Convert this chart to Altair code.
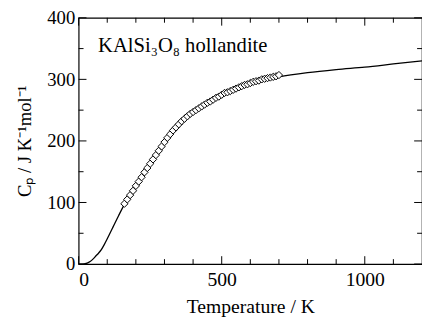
import altair as alt
import pandas as pd

# Fitted curve
curve_T = [0, 10, 20, 30, 40, 50, 60, 70, 80, 90, 100, 120, 140, 160, 180, 200, 250, 300, 350,
           400, 450, 500, 550, 600, 650, 700, 800, 900, 1000, 1100, 1200]
curve_Cp = [0, 0.05, 0.4, 1.5, 4, 8, 13, 18, 24, 32, 41, 60, 79, 97, 113, 128, 164, 196, 223,
            244, 260, 272, 283, 292, 299, 304, 311, 316, 320, 325, 330]

# Measured points (diamonds)
pts_T = [160, 170, 180, 190, 200, 210, 220, 230, 240, 250, 260, 270, 280, 290, 300,
         310, 320, 330, 340, 350, 360, 370, 380, 390, 400, 410, 420, 430, 440, 450,
         460, 470, 480, 490, 500, 510, 520, 530, 540, 550, 560, 570, 580, 590, 600,
         610, 620, 630, 640, 650, 660, 670, 680, 690, 700]
pts_Cp = [98, 105, 112, 119, 127, 134, 141, 149, 156, 163, 170, 177, 184, 191, 198,
          205, 211, 217, 222, 227, 232, 236, 240, 244, 247, 250, 253, 256, 259, 262,
          264, 267, 270, 272, 275, 278, 279, 281, 283, 285, 287, 289, 291, 292, 294,
          296, 297, 298, 300, 301, 302, 303, 304, 305, 307]

x_major = [0, 500, 1000]
x_minor = [100, 200, 300, 400, 600, 700, 800, 900, 1100]
y_major = [0, 100, 200, 300, 400]
y_minor = [50, 150, 250, 350]

label_text = ["KAlSi₃O₈ hollandite"]
label_T = [68]
label_Cp = [344]

W, H = 350, 251
FONT = "Liberation Serif"

xs = alt.Scale(domain=[0, 1200], nice=False, zero=False)
ys = alt.Scale(domain=[0, 400], nice=False, zero=False)

curve = pd.DataFrame({"T": curve_T, "Cp": curve_Cp})
pts = pd.DataFrame({"T": pts_T, "Cp": pts_Cp})

base_line = alt.Chart(curve).mark_line(color="black", strokeWidth=1.3, interpolate="monotone").encode(
    x=alt.X("T:Q", scale=xs,
            axis=alt.Axis(title="Temperature / K", values=x_major, ticks=False, domain=False,
                          grid=False, labelPadding=6, titlePadding=7, format="d")),
    y=alt.Y("Cp:Q", scale=ys,
            axis=alt.Axis(title="Cₚ / J K⁻¹mol⁻¹", values=y_major, ticks=False, domain=False,
                          grid=False, labelPadding=4, titlePadding=13, format="d",
                          titleFontSize=19)),
)

points = alt.Chart(pts).mark_point(shape="diamond", filled=True, fill="white", stroke="black",
                                   strokeWidth=1, size=55, opacity=1).encode(
    x=alt.X("T:Q", scale=xs), y=alt.Y("Cp:Q", scale=ys))

def xticks(vals, length):
    df = pd.DataFrame({"T": vals})
    bottom = alt.Chart(df).mark_rule(color="black", strokeWidth=1).encode(
        x=alt.X("T:Q", scale=xs), y=alt.value(H), y2=alt.value(H - length))
    top = alt.Chart(df).mark_rule(color="black", strokeWidth=1).encode(
        x=alt.X("T:Q", scale=xs), y=alt.value(0), y2=alt.value(length))
    return bottom + top

def yticks(vals, length):
    df = pd.DataFrame({"Cp": vals})
    left = alt.Chart(df).mark_rule(color="black", strokeWidth=1).encode(
        y=alt.Y("Cp:Q", scale=ys), x=alt.value(0), x2=alt.value(length))
    right = alt.Chart(df).mark_rule(color="black", strokeWidth=1).encode(
        y=alt.Y("Cp:Q", scale=ys), x=alt.value(W), x2=alt.value(W - length))
    return left + right

lab = alt.Chart(pd.DataFrame({"T": label_T, "Cp": label_Cp, "t": label_text})).mark_text(
    align="left", baseline="alphabetic", font=FONT, fontSize=21, color="black").encode(
    x=alt.X("T:Q", scale=xs), y=alt.Y("Cp:Q", scale=ys), text="t:N")

chart = alt.layer(
    xticks(x_major, 8), xticks(x_minor, 5), yticks(y_major, 8), yticks(y_minor, 5),
    base_line, points, lab
).properties(
    width=W, height=H,
    background="white",
    autosize=alt.AutoSizeParams(type="none"),
    padding={"left": 72, "top": 7, "right": 0, "bottom": 52},
).configure_view(
    stroke="black", strokeWidth=1.2
).configure_axis(
    labelFont=FONT, titleFont=FONT, labelFontSize=20, titleFontSize=20,
    labelColor="black", titleColor="black", titleFontWeight="normal"
).configure_axisY(labelFontSize=19)

chart.save("out.html", embed_options={"renderer": "svg", "actions": False})
